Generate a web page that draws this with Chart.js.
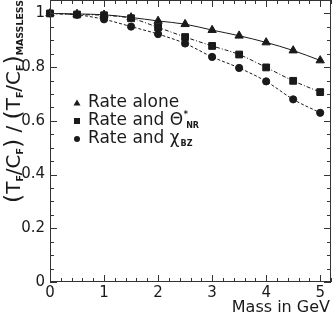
<!DOCTYPE html>
<html><head><meta charset="utf-8">
<script src="https://cdn.jsdelivr.net/npm/chart.js@4"></script>
<style>html,body{margin:0;padding:0;background:#fff}#wrap{width:332px;height:314px}</style>
</head><body><div id="wrap"><canvas id="c" width="332" height="314"></canvas></div>
<script>
const masses = [0, 0.5, 1, 1.5, 2, 2.5, 3, 3.5, 4, 4.5, 5];
const rateAlone = [1.0, 0.998, 0.995, 0.985, 0.972, 0.960, 0.938, 0.917, 0.892, 0.862, 0.825];
const rateTheta = [1.0, 0.996, 0.993, 0.982, 0.948, 0.912, 0.879, 0.847, 0.799, 0.749, 0.707];
const rateChi   = [1.0, 0.995, 0.978, 0.951, 0.923, 0.888, 0.838, 0.797, 0.747, 0.680, 0.630];
const xTickLabels = ['0', '1', '2', '3', '4', '5'];
const yTickLabels = ['0', '0.2', '0.4', '0.6', '0.8', '1'];
const xTitle = 'Mass in GeV';
const legendLabels = ['Rate alone', 'Rate and Θ', 'Rate and χ'];

const FONT = "'DejaVu Sans', sans-serif";
const INK = '#1a1a1a';
const AXIS = '#333';

function pts(arr) { return masses.map((m, i) => ({ x: m, y: arr[i] })); }
function near(v, s) { const k = v / s; return Math.abs(k - Math.round(k)) < 1e-6 ? Math.round(k) : -1; }

const decor = {
  id: 'decor',
  afterDatasetsDraw(chart) {
    const ctx = chart.ctx, a = chart.chartArea;
    const xs = chart.scales.x, ys = chart.scales.y;
    ctx.save();
    ctx.strokeStyle = AXIS; ctx.lineWidth = 1;
    ctx.strokeRect(a.left + 0.5, a.top + 0.5, a.right - a.left - 1, a.bottom - a.top - 1);
    ctx.beginPath();
    xs.ticks.forEach(t => {
      const px = Math.round(xs.getPixelForValue(t.value)) + 0.5;
      const major = near(t.value, 1) >= 0;
      const L = major ? 7 : 4;
      ctx.moveTo(px, a.bottom); ctx.lineTo(px, a.bottom - L);
      ctx.moveTo(px, a.top); ctx.lineTo(px, a.top + L);
    });
    ys.ticks.forEach(t => {
      const py = Math.round(ys.getPixelForValue(t.value)) + 0.5;
      const major = near(t.value, 0.2) >= 0;
      const L = major ? 7 : 4;
      ctx.moveTo(a.left, py); ctx.lineTo(a.left + L, py);
      ctx.moveTo(a.right, py); ctx.lineTo(a.right - L, py);
    });
    ctx.stroke();

    ctx.fillStyle = INK;
    ctx.font = '16px ' + FONT;
    ctx.textAlign = 'right'; ctx.textBaseline = 'alphabetic';
    ctx.fillText(xTitle, 330, 312);

    const lx = 77, tx = 88, rows = [103, 121, 139];
    ctx.fillStyle = INK;
    ctx.beginPath(); ctx.moveTo(lx, rows[0] - 3.5); ctx.lineTo(lx + 3.5, rows[0] + 2.5); ctx.lineTo(lx - 3.5, rows[0] + 2.5); ctx.closePath(); ctx.fill();
    ctx.fillRect(lx - 3, rows[1] - 3, 6, 6);
    ctx.beginPath(); ctx.arc(lx, rows[2], 3, 0, Math.PI * 2); ctx.fill();
    ctx.textAlign = 'left'; ctx.textBaseline = 'middle';
    ctx.font = '17px ' + FONT;
    ctx.fillText(legendLabels[0], tx, rows[0]);
    ctx.fillText(legendLabels[1], tx, rows[1]);
    let w = ctx.measureText(legendLabels[1]).width;
    ctx.font = 'bold 8px ' + FONT;
    ctx.fillText('*', tx + w + 0.5, rows[1] - 6);
    ctx.fillText('NR', tx + w + 3, rows[1] + 5);
    ctx.font = '17px ' + FONT;
    ctx.fillText(legendLabels[2], tx, rows[2]);
    w = ctx.measureText(legendLabels[2]).width;
    ctx.font = 'bold 8px ' + FONT;
    ctx.fillText('BZ', tx + w + 1, rows[2] + 5);

    const pieces = [
      ['(', 20, 0], ['T', 17, 0], ['F', 8, 5], ['/', 17, 0], ['C', 17, 0], ['F', 8, 5], [')', 20, 0],
      [' / ', 17, 0],
      ['(', 20, 0], ['T', 17, 0], ['F', 8, 5], ['/', 17, 0], ['C', 17, 0], ['F', 8, 5], [')', 20, 0],
      ['MASSLESS', 8, 5]
    ];
    const fontFor = (p, f) => (p[1] <= 9 ? 'bold ' : '') + (p[1] * f).toFixed(2) + 'px ' + FONT;
    let total = 0;
    pieces.forEach(p => { ctx.font = fontFor(p, 1); total += ctx.measureText(p[0]).width; });
    const target = 203, fac = target / total;
    ctx.translate(15, 203);
    ctx.rotate(-Math.PI / 2);
    ctx.textAlign = 'left'; ctx.textBaseline = 'middle';
    let cx = 0;
    pieces.forEach(p => {
      ctx.font = fontFor(p, fac);
      ctx.fillText(p[0], cx, p[2] * fac);
      cx += ctx.measureText(p[0]).width;
    });
    ctx.restore();
  }
};

new Chart(document.getElementById('c'), {
  type: 'scatter',
  data: {
    datasets: [
      { label: legendLabels[0], data: pts(rateAlone), showLine: true, borderColor: INK, backgroundColor: INK,
        borderWidth: 1, pointStyle: 'triangle', pointRadius: 4.8, tension: 0.4, cubicInterpolationMode: 'monotone', clip: false },
      { label: legendLabels[1], data: pts(rateTheta), showLine: true, borderColor: INK, backgroundColor: INK,
        borderWidth: 1, borderDash: [4, 2, 1, 2], pointStyle: 'rect', pointRadius: 4.8, tension: 0.4, cubicInterpolationMode: 'monotone', clip: false },
      { label: legendLabels[2], data: pts(rateChi), showLine: true, borderColor: INK, backgroundColor: INK,
        borderWidth: 1, borderDash: [3, 2], pointStyle: 'circle', pointRadius: 3.6, tension: 0.4, cubicInterpolationMode: 'monotone', clip: false }
    ]
  },
  options: {
    responsive: false, animation: false, devicePixelRatio: 1,
    layout: { autoPadding: false, padding: { top: 0, right: 1, left: 0, bottom: 0 } },
    plugins: { legend: { display: false }, tooltip: { enabled: false } },
    scales: {
      x: {
        type: 'linear', min: 0, max: 5.2,
        grid: { display: false, drawTicks: false }, border: { display: false },
        ticks: { stepSize: 0.2, autoSkip: false, maxRotation: 0, padding: 2, color: INK, font: { family: FONT, size: 15 },
          callback: v => { const k = near(v, 1); return k >= 0 && k < xTickLabels.length ? xTickLabels[k] : ''; } },
        afterFit: s => { s.height = 32; s.paddingLeft = 0; s.paddingRight = 0; }
      },
      y: {
        min: 0, max: 1.05,
        grid: { display: false, drawTicks: false }, border: { display: false },
        ticks: { stepSize: 0.05, autoSkip: false, padding: 5, color: INK, font: { family: FONT, size: 15 },
          callback: v => { const k = near(v, 0.2); return k >= 0 && k < yTickLabels.length ? yTickLabels[k] : ''; } },
        afterFit: s => { s.width = 50; s.paddingTop = 0; s.paddingBottom = 0; }
      }
    }
  },
  plugins: [decor]
});
</script></body></html>
